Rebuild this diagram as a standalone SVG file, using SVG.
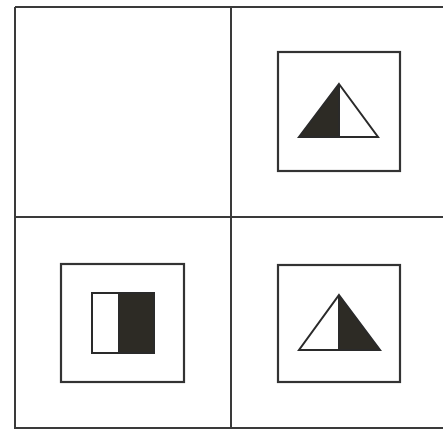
<svg xmlns="http://www.w3.org/2000/svg" width="443" height="431" viewBox="0 0 443 431">
<style>
.grid{stroke:#3a3a3a;stroke-width:2;fill:none}
.box{stroke:#333;stroke-width:2.2;fill:none}
.dark{fill:#2d2b25;stroke:none}
.shape{stroke:#2a2a2a;stroke-width:2;fill:none;stroke-linejoin:miter}
</style>
<rect width="443" height="431" fill="#fff"/>
<g id="grid">
<path class="grid" d="M15,7 H443 M15,7 V428 H443 M231,7 V428 M15,217 H443"/>
</g>
<g id="cell-top-right">
<rect class="box" x="278" y="52" width="122" height="119"/>
<polygon class="dark" points="339,84 339,137 299,137"/>
<polygon class="shape" points="339,84 378,137 299,137"/>
<line class="shape" x1="339" y1="84" x2="339" y2="137"/>
</g>
<g id="cell-bottom-left">
<rect class="box" x="61" y="264" width="123" height="118"/>
<rect class="dark" x="119" y="293" width="35" height="60"/>
<rect class="shape" x="92" y="293" width="62" height="60"/>
<line class="shape" x1="119" y1="293" x2="119" y2="353"/>
</g>
<g id="cell-bottom-right">
<rect class="box" x="278" y="265" width="122" height="117"/>
<polygon class="dark" points="339,295 339,350 380,350"/>
<polygon class="shape" points="339,295 380,350 299,350"/>
<line class="shape" x1="339" y1="295" x2="339" y2="350"/>
</g>
</svg>
